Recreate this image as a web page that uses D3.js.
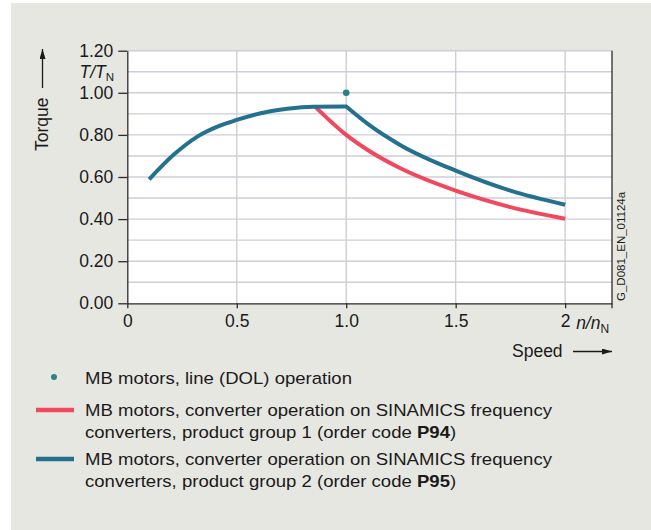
<!DOCTYPE html>
<html>
<head>
<meta charset="utf-8">
<script src="https://cdn.jsdelivr.net/npm/d3@7"></script>
<style>
  html, body { margin: 0; padding: 0; background: #ffffff; }
  svg { display: block; }
  text { font-family: "Liberation Sans", Arial, sans-serif; fill: #1a1a1a; }
</style>
</head>
<body>
<svg id="chart" width="651" height="530"></svg>
<script>
// Torque characteristic T/TN over speed n/nN
const speedP95  = [0.10, 0.21, 0.32, 0.42, 0.50, 0.61, 0.73, 0.85, 1.00];
const torqueP95 = [0.589, 0.704, 0.792, 0.843, 0.871, 0.903, 0.924, 0.934, 0.935];
const speedP95Field  = [1.00, 1.10, 1.25, 1.50, 1.75, 2.00];
const torqueP95Field = [0.935, 0.851, 0.750, 0.630, 0.535, 0.468];
const speedP94  = [0.86, 1.00, 1.10, 1.25, 1.50, 1.75, 2.00];
const torqueP94 = [0.932, 0.800, 0.727, 0.640, 0.535, 0.457, 0.402];
const dolSpeed  = [1.0];
const dolTorque = [1.0];

const yTicks = [0, 0.2, 0.4, 0.6, 0.8, 1.0, 1.2];
const yGrid  = [0.1, 0.2, 0.3, 0.4, 0.5, 0.6, 0.7, 0.8, 0.9, 1.0, 1.1, 1.2];
const xTicks = [0, 0.5, 1.0, 1.5, 2.0];
const xTickLabels = ["0", "0.5", "1.0", "1.5", "2"];

const legendItems = [
  { kind: "dot",  color: "#2b8284", lines: [["MB motors, line (DOL) operation"]] },
  { kind: "line", color: "#f2485e", lines: [["MB motors, converter operation on SINAMICS frequency"],
                                             ["converters, product group 1 (order code ", "P94", ")"]] },
  { kind: "line", color: "#23708f", lines: [["MB motors, converter operation on SINAMICS frequency"],
                                             ["converters, product group 2 (order code ", "P95", ")"]] }
];

const svg = d3.select("#chart");
const bg = "#e7e7e2";

// panel background
svg.append("rect").attr("x", 11).attr("y", 3).attr("width", 640).attr("height", 527).attr("fill", bg);

const x = d3.scaleLinear().domain([0, 2.214]).range([127.3, 612]);
const y = d3.scaleLinear().domain([0, 1.2]).range([303.3, 50.7]);

// plot area
svg.append("rect")
  .attr("x", x(0)).attr("y", y(1.2))
  .attr("width", x(2.214) - x(0)).attr("height", y(0) - y(1.2))
  .attr("fill", "#ffffff");

// grid
const grid = svg.append("g").attr("stroke", "#cfcdd9").attr("stroke-width", 1.4);
grid.selectAll("line.h").data(yGrid).join("line").attr("class", "h")
  .attr("x1", x(0)).attr("x2", x(2.214))
  .attr("y1", d => y(d)).attr("y2", d => y(d));
grid.selectAll("line.v").data(xTicks.slice(1)).join("line").attr("class", "v")
  .attr("x1", d => x(d)).attr("x2", d => x(d))
  .attr("y1", y(1.2)).attr("y2", y(0));

// axes
const axisColor = "#2b2b2b";
const yAxis = svg.append("g").attr("transform", `translate(${x(0)},0)`)
  .call(d3.axisLeft(y).tickValues(yTicks).tickFormat(d3.format(".2f")).tickSize(9).tickSizeOuter(0).tickPadding(5));
const xAxis = svg.append("g").attr("transform", `translate(0,${y(0)})`)
  .call(d3.axisBottom(x).tickValues(xTicks).tickFormat((d, i) => xTickLabels[i]).tickSize(5).tickSizeOuter(0).tickPadding(6));
[yAxis, xAxis].forEach(a => {
  a.selectAll("path.domain").attr("stroke", axisColor).attr("stroke-width", 1.3);
  a.selectAll(".tick line").attr("stroke", axisColor).attr("stroke-width", 1.3);
  a.selectAll(".tick text").attr("font-size", 17.5).attr("fill", "#1a1a1a")
    .attr("font-family", '"Liberation Sans", Arial, sans-serif');
});
xAxis.selectAll(".tick text").attr("dy", "0.72em");
// right frame line
svg.append("line")
  .attr("x1", x(2.214)).attr("x2", x(2.214))
  .attr("y1", y(1.2)).attr("y2", y(0) + 5)
  .attr("stroke", axisColor).attr("stroke-width", 1.3);

// x tick "2" gets unit n/nN
const unitX = svg.append("text").attr("x", x(2) + 11).attr("y", y(0) + 26).attr("font-size", 17.5);
unitX.append("tspan").attr("font-style", "italic").text("n/n");
unitX.append("tspan").attr("font-size", 12).attr("dy", 4).text("N");

// y unit T/TN
const unitY = svg.append("text").attr("x", 114).attr("y", 77.5).attr("font-size", 17.5).attr("text-anchor", "end");
unitY.append("tspan").attr("font-style", "italic").text("T/T");
unitY.append("tspan").attr("font-size", 11.5).attr("dy", 3.5).text("N");

// arrow head marker
const defs = svg.append("defs");
defs.append("marker").attr("id", "arrow")
  .attr("viewBox", "0 0 10 6").attr("refX", 10).attr("refY", 3)
  .attr("markerWidth", 10).attr("markerHeight", 6).attr("markerUnits", "userSpaceOnUse")
  .attr("orient", "auto")
  .append("path").attr("d", "M0,0 L10,3 L0,6 Z").attr("fill", "#1a1a1a");

// axis titles
svg.append("text").attr("transform", "translate(48,151) rotate(-90)").attr("font-size", 17.5).text("Torque");
svg.append("line").attr("x1", 42.5).attr("x2", 42.5).attr("y1", 88).attr("y2", 49)
  .attr("stroke", "#1a1a1a").attr("stroke-width", 1.3).attr("marker-end", "url(#arrow)");
svg.append("text").attr("x", 512).attr("y", 357).attr("font-size", 17.5).text("Speed");
svg.append("line").attr("x1", 573).attr("x2", 612).attr("y1", 351.5).attr("y2", 351.5)
  .attr("stroke", "#1a1a1a").attr("stroke-width", 1.3).attr("marker-end", "url(#arrow)");

// drawing id
svg.append("text").attr("transform", "translate(625,301) rotate(-90)").attr("font-size", 11.5).text("G_D081_EN_01124a");

// curves
const line = d3.line().x(d => x(d[0])).y(d => y(d[1])).curve(d3.curveMonotoneX);
const zip = (a, b) => a.map((v, i) => [v, b[i]]);

svg.append("path").attr("d", line(zip(speedP94, torqueP94)))
  .attr("fill", "none").attr("stroke", legendItems[1].color).attr("stroke-width", 4);
svg.append("path").attr("d", line(zip(speedP95, torqueP95)) + line(zip(speedP95Field, torqueP95Field)).replace(/^M/, "L"))
  .attr("fill", "none").attr("stroke", legendItems[2].color).attr("stroke-width", 4)
  .attr("stroke-linejoin", "miter");

svg.selectAll("circle.dol").data(zip(dolSpeed, dolTorque)).join("circle").attr("class", "dol")
  .attr("cx", d => x(d[0])).attr("cy", d => y(d[1])).attr("r", 3.3)
  .attr("fill", legendItems[0].color);

// legend
const legendRows = [384, 416, 465];
const lineGap = 21.6;
legendItems.forEach((item, i) => {
  const base = legendRows[i];
  if (item.kind === "dot") {
    svg.append("circle").attr("cx", 54).attr("cy", base - 7).attr("r", 3).attr("fill", item.color);
  } else {
    svg.append("line").attr("x1", 36).attr("x2", 74).attr("y1", base - 6).attr("y2", base - 6)
      .attr("stroke", item.color).attr("stroke-width", 4.5);
  }
  item.lines.forEach((parts, j) => {
    const t = svg.append("text")
      .attr("transform", `translate(85,${base + j * lineGap}) scale(1.125,1)`)
      .attr("font-size", 16.5);
    parts.forEach((p, k) => {
      t.append("tspan").attr("font-weight", k === 1 ? "bold" : null).text(p);
    });
  });
});
</script>
</body>
</html>
